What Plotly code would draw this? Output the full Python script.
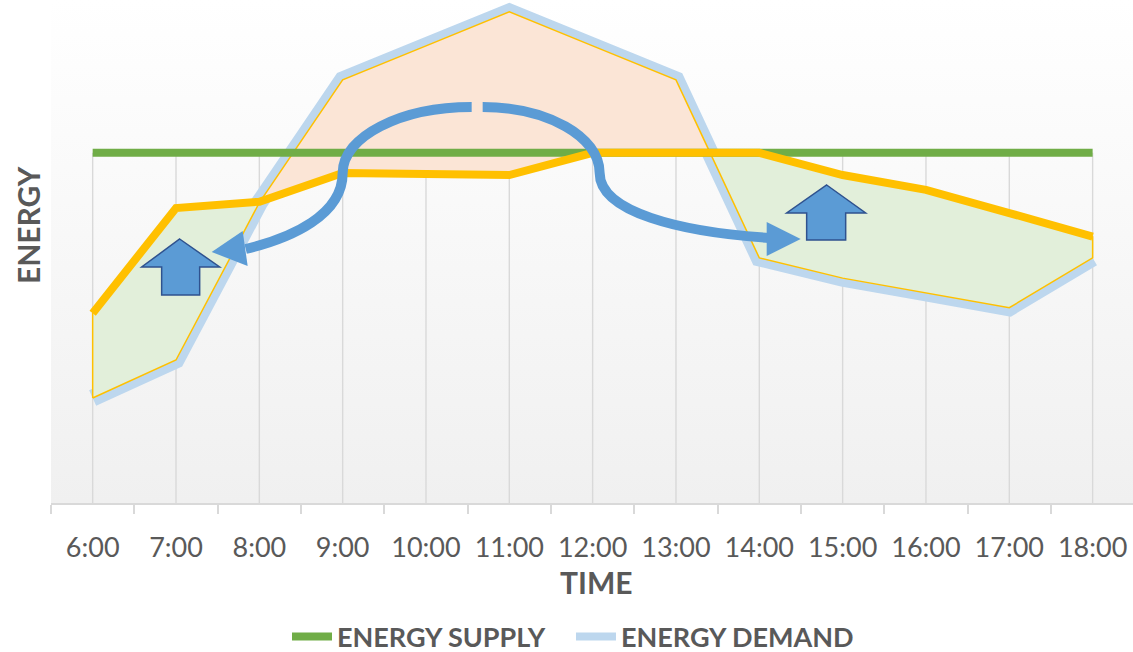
import numpy as np
import plotly.graph_objects as go

# ---------------- data ----------------
times = ["6:00", "7:00", "8:00", "9:00", "10:00", "11:00", "12:00",
         "13:00", "14:00", "15:00", "16:00", "17:00", "18:00"]
energy_supply = [71, 71, 71, 71, 71, 71, 71, 71, 71, 71, 71, 71, 71]
energy_demand = [21.3, 29.0, 60.9, 85.8, 92.7, 99.6, 92.7, 85.8, 49.7, 45.6, 42.6, 39.6, 49.7]
shifted_demand = [38.5, 59.8, 61.1, 66.9, 66.7, 66.5, 71.0, 71.0, 71.0, 66.5, 63.5, 58.8, 54.0]

# ---------------- styling ----------------
W, H = 1133, 652
ML, MT, MB = 51, 0, 149
PLOT_W = W - ML
PLOT_H = H - MT - MB
CAT_PX = 83.33
X0 = -0.5
X1 = X0 + PLOT_W / CAT_PX
YMAX = 102.0
Y_PX = PLOT_H / YMAX

GREEN = "#70ad47"
LBLUE = "#bdd7ee"
YELLOW = "#ffc000"
ORANGE_FILL = "#fbe5d6"
GREEN_FILL = "#e2efda"
ARROW = "#5b9bd5"
ARROW_EDGE = "#2f528f"
TXT = "#595959"
GRID = "#d9d9d9"
FONT = "Lato"
NB = "\u00a0"

n = len(times)
xs = list(range(n))

fig = go.Figure()

# plot-area background (vertical gradient)
fig.add_trace(go.Scatter(
    x=[X0, X1, X1, X0, X0], y=[0, 0, YMAX, YMAX, 0], mode="lines",
    line=dict(width=0), fill="toself",
    fillgradient=dict(type="vertical", colorscale=[[0, "#f0f0f0"], [1, "#ffffff"]]),
    hoverinfo="skip", showlegend=False))

# drop lines
dx, dy = [], []
for i in xs:
    top = max(energy_supply[i], energy_demand[i], shifted_demand[i])
    dx += [i, i, None]
    dy += [top, 0, None]
fig.add_trace(go.Scatter(x=dx, y=dy, mode="lines", line=dict(color=GRID, width=1.4),
                         hoverinfo="skip", showlegend=False))

# demand line (drawn wide, under the fill regions)
fig.add_trace(go.Scatter(x=xs, y=energy_demand, mode="lines",
                         line=dict(color=LBLUE, width=17), showlegend=False))

# fill regions between demand and shifted demand
d = np.array(energy_demand, float)
a = np.array(shifted_demand, float)
diff = d - a
px_, pd_, pa_, cross = [], [], [], []
for i in range(n):
    px_.append(float(i)); pd_.append(d[i]); pa_.append(a[i])
    if i < n - 1 and diff[i] * diff[i + 1] < 0:
        t = diff[i] / (diff[i] - diff[i + 1])
        yc = d[i] + t * (d[i + 1] - d[i])
        cross.append(len(px_))
        px_.append(i + t); pd_.append(yc); pa_.append(yc)
bounds = [0] + cross + [len(px_) - 1]
for s, e in zip(bounds[:-1], bounds[1:]):
    seg = range(s, e + 1)
    mid = [k for k in seg if k not in cross]
    sign = np.sign(np.mean([pd_[k] - pa_[k] for k in mid]))
    color = ORANGE_FILL if sign > 0 else GREEN_FILL
    polx = [px_[k] for k in seg] + [px_[k] for k in reversed(seg)] + [px_[s]]
    poly = [pd_[k] for k in seg] + [pa_[k] for k in reversed(seg)] + [pd_[s]]
    fig.add_trace(go.Scatter(x=polx, y=poly, mode="lines", fill="toself", fillcolor=color,
                             line=dict(color=YELLOW, width=1.5), hoverinfo="skip",
                             showlegend=False))

# supply line
fig.add_trace(go.Scatter(x=xs, y=energy_supply, mode="lines",
                         name="<b>ENERGY SUPPLY</b>" + NB * 3,
                         line=dict(color=GREEN, width=8), legendrank=1))
# shifted demand line
fig.add_trace(go.Scatter(x=xs, y=shifted_demand, mode="lines", line=dict(color=YELLOW, width=8),
                         showlegend=False))
# legend entry for demand
fig.add_trace(go.Scatter(x=[None], y=[None], mode="lines", name="<b>ENERGY DEMAND</b>",
                         line=dict(color=LBLUE, width=8), legendrank=2))


# ---------------- decorations (arrows) ----------------
def P(px, py):
    """pixel position in the picture -> axis units"""
    return (px - 93) / CAT_PX, (MT + PLOT_H - py) / Y_PX


def path(cmds):
    out = []
    for c in cmds:
        if isinstance(c, str):
            out.append(c)
        else:
            x, y = P(*c)
            out.append(f"{x:.4f},{y:.4f}")
    return " ".join(out)


k = 0.5523
left_arc = path(["M", (472, 107), "C", (472 - k * 129, 107), (343, 173 - k * 66), (343, 173),
                 "C", (343, 215), (292, 238), (246, 249)])
right_arc = path(["M", (483, 107), "C", (483 + k * 117, 107), (600, 173 - k * 66), (600, 173),
                  "C", (600, 212), (680, 232), (770, 238)])
shapes = [
    dict(type="path", path=left_arc, line=dict(color=ARROW, width=10), layer="above"),
    dict(type="path", path=right_arc, line=dict(color=ARROW, width=10), layer="above"),
    dict(type="path", path=path(["M", (212, 252), "L", (243, 231), "L", (248, 266), "Z"]),
         fillcolor=ARROW, line=dict(width=0), layer="above"),
    dict(type="path", path=path(["M", (801, 239), "L", (767, 222), "L", (767, 256), "Z"]),
         fillcolor=ARROW, line=dict(width=0), layer="above"),
    dict(type="path", path=path(["M", (180, 239), "L", (220, 267), "L", (200, 267), "L", (200, 295),
                                 "L", (162, 295), "L", (162, 267), "L", (142, 267), "Z"]),
         fillcolor=ARROW, line=dict(color=ARROW_EDGE, width=1.5), layer="above"),
    dict(type="path", path=path(["M", (827, 185), "L", (866, 213), "L", (846, 213), "L", (846, 240),
                                 "L", (807, 240), "L", (807, 213), "L", (787, 213), "Z"]),
         fillcolor=ARROW, line=dict(color=ARROW_EDGE, width=1.5), layer="above"),
]

annotations = [
    dict(text="<b>TIME</b>", x=(596 - ML) / PLOT_W, y=(MT + PLOT_H - 582) / PLOT_H,
         xref="paper", yref="paper", showarrow=False, xanchor="center", yanchor="middle",
         font=dict(family=FONT, size=30, color=TXT)),
    dict(text="<b>ENERGY</b>", x=(28 - ML) / PLOT_W, y=(MT + PLOT_H - 225) / PLOT_H,
         xref="paper", yref="paper", showarrow=False, xanchor="center", yanchor="middle",
         textangle=-90, font=dict(family=FONT, size=30, color=TXT)),
]

fig.update_layout(
    width=W, height=H,
    margin=dict(l=ML, r=0, t=MT, b=MB, pad=0, autoexpand=False),
    paper_bgcolor="white", plot_bgcolor="white",
    showlegend=True,
    legend=dict(orientation="h", x=(287 - ML) / PLOT_W, y=(MT + PLOT_H - 637) / PLOT_H,
                xanchor="left", yanchor="middle", font=dict(family=FONT, size=27, color=TXT),
                bgcolor="rgba(0,0,0,0)", itemwidth=40, tracegroupgap=0),
    shapes=shapes, annotations=annotations,
    xaxis=dict(range=[X0, X1], tickmode="array", tickvals=xs, ticktext=times,
               tickfont=dict(family=FONT, size=27, color=TXT),
               ticks="outside", ticklen=20, tickcolor="rgba(0,0,0,0)",
               minor=dict(tickvals=[i - 0.5 for i in range(n + 1)], ticks="outside", ticklen=9,
                          tickcolor=GRID, tickwidth=1.5, showgrid=False),
               showgrid=False, zeroline=False, showline=True, linecolor=GRID, linewidth=1.5,
               fixedrange=True),
    yaxis=dict(range=[0, YMAX], showgrid=False, zeroline=False, showticklabels=False,
               showline=False, ticks="", fixedrange=True),
)

fig.write_html("out.html", post_script="document.body.style.margin='0';",
               config={"displayModeBar": False})
